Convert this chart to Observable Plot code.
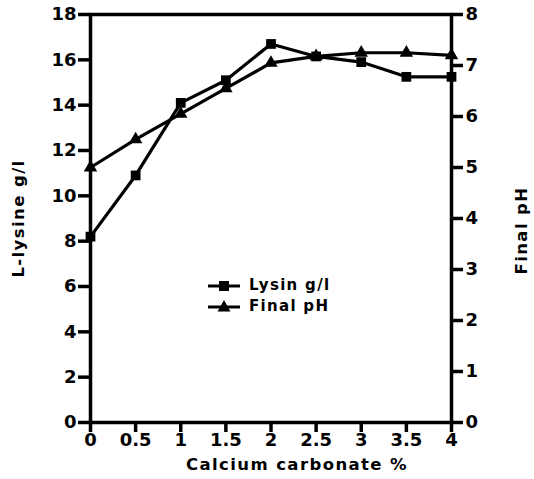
<!DOCTYPE html>
<html>
<head>
<meta charset="utf-8">
<script src="https://cdn.jsdelivr.net/npm/d3@7"></script>
<script src="https://cdn.jsdelivr.net/npm/@observablehq/plot@0.6"></script>
<style>
  html, body { margin: 0; padding: 0; background: #fff; }
  #wrap { position: relative; width: 534px; height: 479px; font-family: "DejaVu Sans", sans-serif; font-weight: bold; }
  #legend { position: absolute; left: 207px; top: 275px; font-size: 15px; letter-spacing: 1.3px; line-height: 21px; }
  #legend div { display: flex; align-items: center; }
  #legend svg { margin-right: 8px; }
</style>
</head>
<body>
<div id="wrap"></div>
<script>
const calcium = [0, 0.5, 1, 1.5, 2, 2.5, 3, 3.5, 4];
const lysine = [8.2, 10.9, 14.1, 15.1, 16.7, 16.15, 15.9, 15.25, 15.25];
const finalPH = [5.0, 5.55, 6.05, 6.55, 7.05, 7.18, 7.25, 7.25, 7.2];
const xTicks = [0, 0.5, 1, 1.5, 2, 2.5, 3, 3.5, 4];
const leftTicks = [0, 2, 4, 6, 8, 10, 12, 14, 16, 18];
const rightTicks = [0, 1, 2, 3, 4, 5, 6, 7, 8];
const seriesNames = ["Lysin g/l", "Final pH"];
const xLabel = "Calcium carbonate %";
const leftLabel = "L-lysine g/l";
const rightLabel = "Final pH";

const k = 18 / 8; // pH -> lysine axis factor
const lysData = calcium.map((c, i) => ({x: c, y: lysine[i]}));
const phData = calcium.map((c, i) => ({x: c, y: finalPH[i] * k}));

const chart = Plot.plot({
  width: 534,
  height: 479,
  marginLeft: 90,
  marginRight: 83,
  marginTop: 14,
  marginBottom: 57,
  style: {fontFamily: '"DejaVu Sans", sans-serif', fontWeight: "bold", fontSize: "18px", color: "#000", background: "#fff"},
  x: {domain: [0, 4]},
  y: {domain: [0, 18]},
  marks: [
    Plot.frame({stroke: "#000", strokeWidth: 3.5}),
    Plot.axisX(xTicks, {tickSize: 10, tickPadding: 1, strokeWidth: 3.5, fontSize: 18, label: xLabel, labelAnchor: "center", labelArrow: "none", labelOffset: 47, tickFormat: d => String(d)}),
    Plot.axisY(leftTicks, {anchor: "left", tickSize: 12, tickPadding: 2, strokeWidth: 3.5, fontSize: 18, label: leftLabel, labelAnchor: "center", labelArrow: "none", labelOffset: 78}),
    Plot.axisY(rightTicks.map(v => v * k), {anchor: "right", tickSize: 11, tickPadding: 3, strokeWidth: 3.5, fontSize: 18, tickFormat: d => String(Math.round(d / k)), label: rightLabel, labelAnchor: "center", labelArrow: "none", labelOffset: 75}),
    Plot.line(lysData, {x: "x", y: "y", stroke: "#000", strokeWidth: 3.2}),
    Plot.line(phData, {x: "x", y: "y", stroke: "#000", strokeWidth: 3.2}),
    Plot.dot(lysData, {x: "x", y: "y", symbol: "square", r: 5.5, fill: "#000"}),
    Plot.dot(phData, {x: "x", y: "y", symbol: "triangle", r: 5, fill: "#000"})
  ]
});

const wrap = document.getElementById("wrap");
wrap.appendChild(chart);
const svg = d3.select(chart);
svg.selectAll("g[aria-label$='axis label'] text").attr("font-size", 16.5).style("font-size", "16.5px").style("letter-spacing", "1.4px");
svg.selectAll("g[aria-label='x-axis label'] text").attr("dx", 26);
// right-side label sits a little lower in the reference
svg.selectAll("g[aria-label='y-axis label']").filter((d, i, n) => i === n.length - 1).selectAll("text").attr("dx", -12);

const legend = document.createElement("div");
legend.id = "legend";
const glyphs = [
  '<rect x="12" y="4" width="10" height="10" fill="#000"/>',
  '<path d="M17,2 L23.5,13.5 L10.5,13.5 Z" fill="#000"/>'
];
legend.innerHTML = seriesNames.map((n, i) =>
  `<div><svg width="34" height="18"><line x1="1" y1="9" x2="33" y2="9" stroke="#000" stroke-width="3"/>${glyphs[i]}</svg><span>${n}</span></div>`
).join("");
wrap.appendChild(legend);
</script>
</body>
</html>
